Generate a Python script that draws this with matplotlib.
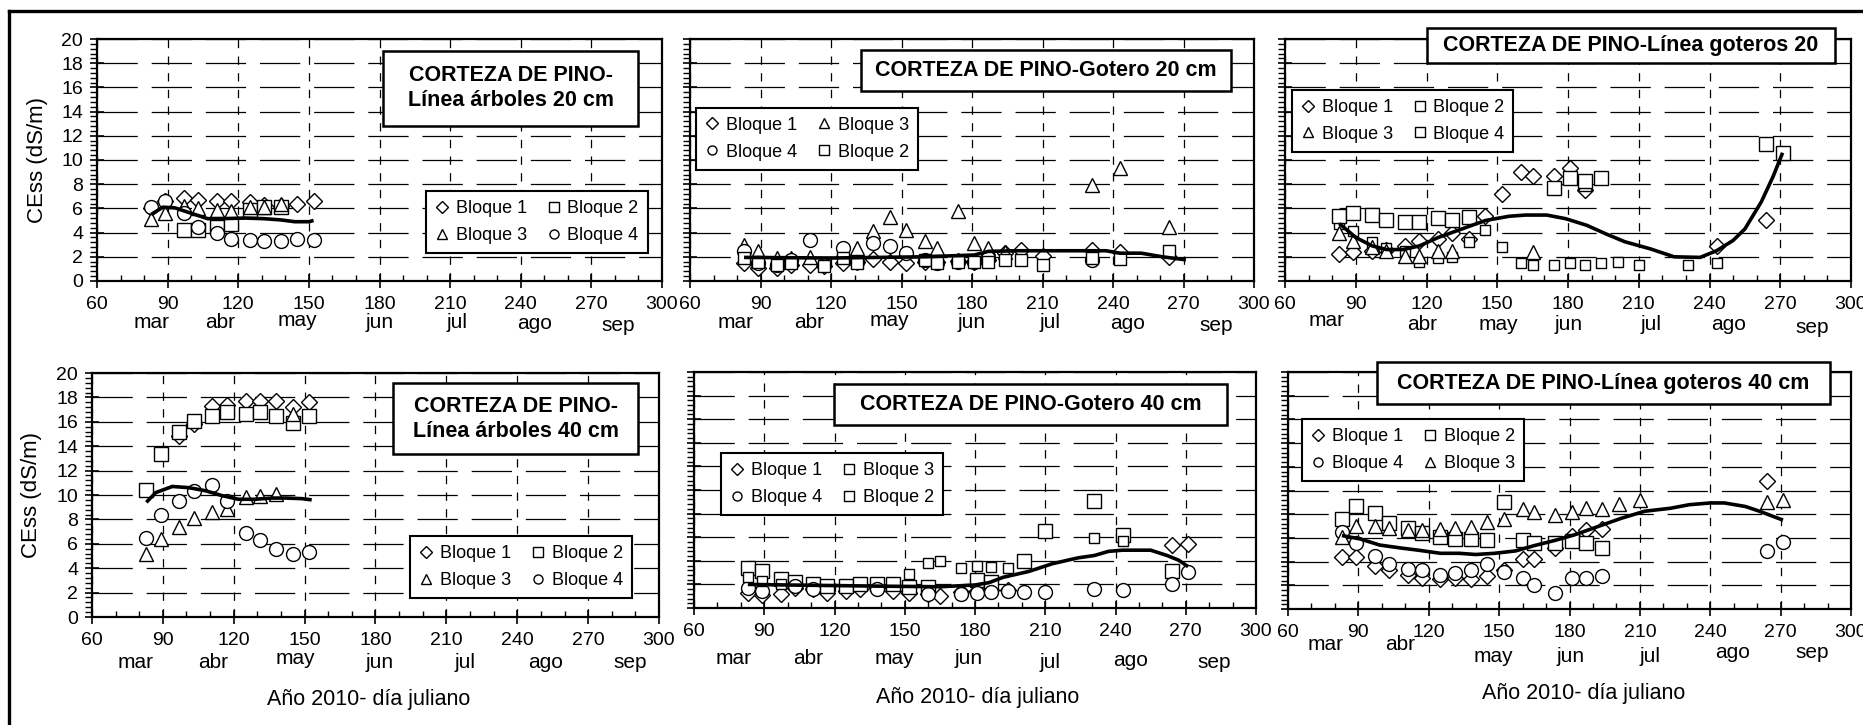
import numpy as np
import matplotlib.pyplot as plt
from matplotlib.lines import Line2D
from matplotlib.patches import Rectangle
from matplotlib.ticker import MultipleLocator

plt.rcParams['font.family'] = ['Liberation Sans', 'DejaVu Sans']
plt.rcParams['lines.scale_dashes'] = False

W, H = 1863, 725
nan = np.nan

# --- data ---
DAYS = [83, 89, 97, 103, 111, 117, 125, 131, 138, 145, 152, 160, 165, 174,
        181, 187, 194, 201, 210, 231, 243, 264, 271]
DAYS_SPRING = DAYS[:11]
MONTHS = ['mar', 'abr', 'may', 'jun', 'jul', 'ago', 'sep']

# Panel 1: Línea árboles 20 cm
p1_b1 = [6.0, 6.6, 6.9, 6.7, 6.6, 6.6, 6.5, 6.3, 6.2, 6.4, 6.6]
p1_b2 = [nan, nan, 4.2, 4.2, 4.5, 4.7, 5.9, 6.1, 6.1, nan, nan]
p1_b3 = [5.1, 5.6, 6.2, 6.0, 5.9, 5.8, 6.1, 6.1, 6.4, nan, nan]
p1_b4 = [6.1, 6.6, 5.6, 4.5, 3.95, 3.5, 3.4, 3.3, 3.3, 3.5, 3.4]
p1_trend_d = [83, 88, 93, 100, 107, 112, 123, 131, 138, 144, 150, 152]
p1_trend_v = [5.5, 6.1, 6.05, 5.6, 5.15, 5.15, 5.2, 5.15, 5.05, 4.9, 4.9, 5.0]

# Panel 2: Gotero 20 cm
p2_b1 = [1.5, 1.1, 1.05, 1.3, 1.3, 1.2, 1.5, 1.6, 1.8, 1.6, 1.5, 1.6, 1.55, 1.65,
         1.55, 1.75, 2.3, 2.6, 2.1, 2.6, 2.4, 2.0, nan]
p2_b3 = [3.0, 2.5, 1.9, 1.9, 2.0, nan, 2.6, 2.7, 4.1, 5.3, 4.2, 3.3, 2.7, 5.8,
         3.1, 2.7, 2.4, nan, nan, 7.9, 9.3, 4.5, nan]
p2_b4 = [2.5, 1.5, 1.3, 1.7, 3.4, 1.3, 2.7, 1.6, 3.1, 2.9, 2.3, 1.75, 1.5, 1.6,
         1.6, 1.9, nan, nan, nan, 1.7, nan, nan, nan]
p2_b2 = [1.9, 1.6, 1.3, 1.5, nan, 1.2, 1.9, 1.5, nan, nan, nan, 1.75, 1.5, 1.6,
         1.6, 1.6, 1.7, 1.7, 1.3, 1.9, 1.8, 2.5, nan]
p2_trend_d = [83, 120, 160, 181, 187, 200, 237, 243, 252, 261, 271]
p2_trend_v = [1.95, 1.9, 2.0, 2.15, 2.45, 2.5, 2.5, 2.3, 2.3, 2.0, 1.75]

# Panel 3: Línea goteros 20
p3_b1 = [2.2, 2.4, 2.5, 2.6, 2.9, 3.3, 3.5, 4.0, 3.5, 5.4, 7.2, 9.0, 8.7, 8.7,
         9.3, 7.5, nan, nan, nan, nan, 2.9, 5.0, nan]
p3_b2 = [4.75, 4.1, 3.2, 2.7, 2.5, 1.6, 1.9, 2.0, 3.2, 4.2, 2.8, 1.5, 1.3, 1.3,
         1.5, 1.3, 1.5, 1.6, 1.3, 1.3, 1.5, nan, nan]
p3_b3 = [4.0, 3.3, 2.8, 2.5, 2.1, 2.1, 2.5, 2.5, nan, nan, nan, nan, 2.4, nan,
         nan, 8.0, nan, nan, nan, nan, nan, nan, nan]
p3_b4 = [5.4, 5.65, 5.45, 5.0, 4.9, 4.9, 5.2, 5.0, 5.3, nan, nan, nan, nan, 7.7,
         8.5, 8.3, 8.5, nan, nan, nan, nan, 11.3, 10.6]
p3_trend_d = [83, 90, 97, 103, 110, 117, 125, 135, 145, 155, 162, 171, 179, 188,
              196, 204, 215, 225, 236, 243, 250, 255, 262, 267, 271]
p3_trend_v = [4.75, 3.6, 2.9, 2.6, 2.6, 2.9, 3.6, 4.3, 5.0, 5.35, 5.45, 5.45, 5.15,
              4.6, 3.9, 3.25, 2.65, 2.0, 1.95, 2.5, 3.35, 4.3, 6.55, 8.65, 10.6]

# Panel 4: Línea árboles 40 cm
p4_b1 = [nan, nan, 14.8, 15.8, 17.3, 17.4, 17.7, 17.7, 17.7, 17.2, 17.6]
p4_b2 = [10.4, 13.4, 15.2, 16.05, 16.5, 16.8, 16.65, 16.8, 16.5, 15.9, 16.5]
p4_b3 = [5.2, 6.4, 7.4, 8.1, 8.6, 8.85, 9.8, 9.9, 10.1, 16.6, nan]
p4_b4 = [6.5, 8.35, 9.5, 10.35, 10.8, 9.5, 6.85, 6.3, 5.55, 5.2, 5.35]
p4_trend_d = [83, 87, 94, 101, 108, 115, 122, 129, 136, 142, 149, 153]
p4_trend_v = [9.4, 10.2, 10.7, 10.6, 10.35, 9.95, 9.65, 9.65, 9.75, 9.75, 9.7, 9.6]

# Panel 5: Gotero 40 cm
p5_b1 = [1.3, 1.1, 1.2, 1.7, 1.6, 1.3, 1.4, 1.6, 1.7, 1.4, 1.25, 1.2, 1.05, 1.35,
         1.4, 1.5, 1.55, nan, nan, nan, nan, 5.3, 5.45]
p5_b3 = [3.4, 3.1, 2.5, 2.2, 2.05, 1.9, 1.9, 2.05, 2.05, 2.05, 1.8, 1.8, nan, nan,
         2.4, 2.2, nan, 4.0, 6.5, 9.05, 6.15, 3.1, nan]
p5_b4 = [1.7, 1.4, nan, 1.85, 1.65, nan, nan, nan, 1.65, nan, nan, 1.2, nan, 1.2,
         1.3, 1.35, 1.45, 1.35, 1.35, 1.65, 1.55, 2.05, 3.05]
p5_b2 = [2.6, 2.3, 2.0, nan, nan, nan, nan, nan, nan, nan, 2.9, 3.8, 4.0, 3.4,
         3.6, 3.5, 3.4, nan, nan, 5.95, 5.7, nan, nan]
p5_trend_d = [83, 100, 120, 140, 165, 180, 186, 192, 203, 213, 224, 231, 237, 243,
              255, 262, 267, 271]
p5_trend_v = [2.0, 1.95, 1.9, 1.85, 1.8, 1.95, 2.15, 2.6, 3.1, 3.75, 4.25, 4.45,
              4.8, 4.9, 4.9, 4.45, 4.05, 3.5]

# Panel 6: Línea goteros 40 cm
p6_b1 = [4.35, 4.35, 3.65, 3.25, 2.9, 2.6, 2.5, 2.6, 2.5, 2.8, 3.3, 4.2, 4.2, 5.15,
         6.2, 6.7, 6.75, nan, nan, nan, nan, 10.8, nan]
p6_b2 = [7.6, 8.65, 8.1, 7.25, 6.8, 6.4, 6.1, 5.9, 5.9, 5.8, 9.0, 5.8, 5.6, 5.6,
         5.7, 5.6, 5.15, nan, nan, nan, nan, nan, nan]
p6_b4 = [6.5, 5.55, 4.45, 3.8, 3.35, 3.3, 2.9, 3.0, 3.25, 3.8, 3.1, 2.6, 2.05, 1.35,
         2.6, 2.6, 2.75, nan, nan, nan, nan, 4.9, 5.65]
p6_b3 = [6.1, 7.0, 7.0, 6.8, 6.7, 6.7, 6.75, 6.8, 6.95, 7.3, 7.6, 8.4, 8.2, 7.95,
         8.15, 8.5, 8.4, 8.9, 9.2, nan, nan, 9.0, 9.2]
p6_trend_d = [83, 91, 99, 108, 116, 125, 133, 140, 148, 157, 165, 174, 182, 192,
              202, 212, 223, 231, 240, 246, 255, 261, 267, 271]
p6_trend_v = [6.2, 5.9, 5.4, 5.15, 4.95, 4.7, 4.7, 4.6, 4.7, 4.9, 5.35, 5.8, 6.25,
              6.95, 7.65, 8.25, 8.5, 8.8, 8.95, 8.95, 8.65, 8.25, 7.8, 7.5]

TITLES = ['CORTEZA DE PINO-\nLínea árboles 20 cm',
          'CORTEZA DE PINO-Gotero 20 cm',
          'CORTEZA DE PINO-Línea goteros 20',
          'CORTEZA DE PINO-\nLínea árboles 40 cm',
          'CORTEZA DE PINO-Gotero 40 cm',
          'CORTEZA DE PINO-Línea goteros 40 cm']

MK = {'D': 8.5, 's': 9.5, '^': 10.0, 'o': 10.0}

# (label, marker, values, marker size override); order = legend reading order (row1 l, row1 r, row2 l, row2 r)
panels = [
    dict(pos=(97, 39, 662, 281), days=DAYS_SPRING, trend=(p1_trend_d, p1_trend_v),
         series=[('Bloque 1', 'D', p1_b1, None), ('Bloque 2', 's', p1_b2, None),
                 ('Bloque 3', '^', p1_b3, None), ('Bloque 4', 'o', p1_b4, None)],
         leg=(0.582, 0.372), box=(0.506, 0.642, 0.958, 0.951), ylab=True,
         months=[83, 112.5, 145, 180, 213, 246, 281.6], mdy=[42, 42, 40, 42, 42, 43, 45],
         xlab=None),
    dict(pos=(690, 39, 1254, 281), days=DAYS, trend=(p2_trend_d, p2_trend_v),
         series=[('Bloque 1', 'D', p2_b1, None), ('Bloque 3', '^', p2_b3, None),
                 ('Bloque 4', 'o', p2_b4, None), ('Bloque 2', 's', p2_b2, 8.0)],
         leg=(0.011, 0.716), box=(0.303, 0.786, 0.959, 0.955), ylab=False,
         months=[79.6, 110.8, 145, 179.7, 213, 246, 284], mdy=[42, 42, 40, 42, 42, 43, 45],
         xlab=None),
    dict(pos=(1285, 39, 1851, 281), days=DAYS, trend=(p3_trend_d, p3_trend_v),
         series=[('Bloque 1', 'D', p3_b1, None), ('Bloque 2', 's', p3_b2, 7.0),
                 ('Bloque 3', '^', p3_b3, None), ('Bloque 4', 's', p3_b4, 10.0)],
         leg=(0.012, 0.79), box=(0.251, 0.901, 0.972, 1.045), ylab=False,
         months=[77.6, 118, 150.3, 180.4, 215, 248, 283.5], mdy=[40, 44, 44, 44, 44, 44, 47],
         xlab=None),
    dict(pos=(92, 373, 659, 617), days=DAYS_SPRING, trend=(p4_trend_d, p4_trend_v),
         series=[('Bloque 1', 'D', p4_b1, None), ('Bloque 2', 's', p4_b2, None),
                 ('Bloque 3', '^', p4_b3, None), ('Bloque 4', 'o', p4_b4, None)],
         leg=(0.561, 0.332), box=(0.531, 0.668, 0.963, 0.959), ylab=True,
         months=[78.6, 111.4, 146.2, 181.7, 218, 252, 288], mdy=[45, 45, 42, 45, 45, 45, 45],
         xlab=(369, 700)),
    dict(pos=(694, 372, 1256, 608), days=DAYS, trend=(p5_trend_d, p5_trend_v),
         series=[('Bloque 1', 'D', p5_b1, None), ('Bloque 3', 's', p5_b3, None),
                 ('Bloque 4', 'o', p5_b4, None), ('Bloque 2', 's', p5_b2, 7.5)],
         leg=(0.048, 0.657), box=(0.249, 0.775, 0.948, 0.949), ylab=False,
         months=[77, 108.7, 145.7, 177.4, 212, 246.6, 282.3], mdy=[50, 50, 50, 50, 55, 52, 55],
         xlab=(978, 697)),
    dict(pos=(1288, 372, 1851, 609), days=DAYS, trend=(p6_trend_d, p6_trend_v),
         series=[('Bloque 1', 'D', p6_b1, None), ('Bloque 2', 's', p6_b2, None),
                 ('Bloque 4', 'o', p6_b4, None), ('Bloque 3', '^', p6_b3, None)],
         leg=(0.025, 0.80), box=(0.158, 0.865, 0.963, 1.042), ylab=False,
         months=[76, 108, 147.6, 180.6, 214.3, 249.5, 283.4], mdy=[36, 36, 48, 48, 48, 44, 44],
         xlab=(1584, 693)),
]

fig = plt.figure(figsize=(W / 100, H / 100), dpi=100)

for i, p in enumerate(panels):
    x0, y0, x1, y1 = p['pos']
    ax = fig.add_axes([x0 / W, 1 - y1 / H, (x1 - x0) / W, (y1 - y0) / H])
    ax.set_xlim(60, 300)
    ax.set_ylim(0, 20)
    ax.set_axisbelow(True)
    ax.xaxis.set_major_locator(MultipleLocator(30))
    ax.xaxis.set_minor_locator(MultipleLocator(10))
    ax.yaxis.set_major_locator(MultipleLocator(2))
    ax.yaxis.set_minor_locator(MultipleLocator(0.4))
    ax.tick_params(axis='x', which='major', direction='inout', length=10, width=1.2,
                   pad=5.5, labelsize=14)
    ax.tick_params(axis='x', which='minor', direction='in', length=4, width=1)
    ax.tick_params(axis='y', which='major', direction='inout', length=10, width=1.2,
                   pad=5, labelsize=14, labelleft=p['ylab'])
    ax.tick_params(axis='y', which='minor', direction='out', length=5, width=1)
    for s in ax.spines.values():
        s.set_linewidth(1.6)
    ax.grid(axis='y', which='major', color='black', lw=0.9, dashes=(29, 10))
    ax.grid(axis='x', which='major', color='black', lw=0.9, dashes=(6, 6))

    days = np.array(p['days'])
    handles = []
    for label, mk, vals, ms in p['series']:
        size = ms if ms is not None else MK[mk]
        ax.plot(days, vals, ls='none', marker=mk, ms=size, mfc='white', mec='black',
                mew=1.0, zorder=3)
        handles.append(Line2D([], [], ls='none', marker=mk, ms=6.5 if mk != 'D' else 6,
                              mfc='white', mec='black', mew=1.0, label=label))
    td, tv = p['trend']
    ax.plot(td, tv, color='black', lw=2.6, zorder=4, solid_capstyle='butt')

    # legend: reading order row-wise -> matplotlib fills column-wise
    order = [handles[0], handles[2], handles[1], handles[3]]
    leg = ax.legend(handles=order, ncol=2, loc='upper left', bbox_to_anchor=p['leg'],
                    borderaxespad=0, fontsize=13, frameon=True, fancybox=False,
                    framealpha=1, handlelength=0.8, handletextpad=0.35,
                    columnspacing=1.1, labelspacing=0.55, borderpad=0.5)
    leg.get_frame().set_edgecolor('black')
    leg.get_frame().set_linewidth(1.5)
    leg.set_zorder(10)

    bx0, by0, bx1, by1 = p['box']
    ax.add_patch(Rectangle((bx0, by0), bx1 - bx0, by1 - by0, transform=ax.transAxes,
                           facecolor='white', edgecolor='black', lw=1.8,
                           clip_on=False, zorder=11))
    ax.text((bx0 + bx1) / 2, (by0 + by1) / 2, TITLES[i], transform=ax.transAxes,
            ha='center', va='center', fontsize=15.5, fontweight='bold',
            linespacing=1.25, zorder=12)

    for m, d, dy in zip(MONTHS, p['months'], p['mdy']):
        ax.annotate(m, xy=(d, 0), xycoords=('data', 'axes fraction'),
                    xytext=(0, -dy * 0.72), textcoords='offset points',
                    ha='center', va='center', fontsize=15)

    if p['ylab']:
        fig.text((x0 - 60) / W, 1 - ((y0 + y1) / 2) / H, 'CEss (dS/m)', rotation=90,
                 ha='center', va='center', fontsize=16)
    if p['xlab'] is not None:
        fig.text(p['xlab'][0] / W, 1 - p['xlab'][1] / H, 'Año 2010- día juliano',
                 ha='center', va='center', fontsize=15.5)

# outer frame (top and left edges)
fig.add_artist(Line2D([9 / W, 1], [1 - 10.7 / H, 1 - 10.7 / H], color='black', lw=2.4))
fig.add_artist(Line2D([9 / W, 9 / W], [0, 1 - 10.7 / H], color='black', lw=2.4))

fig.savefig('out.png', dpi=100)
